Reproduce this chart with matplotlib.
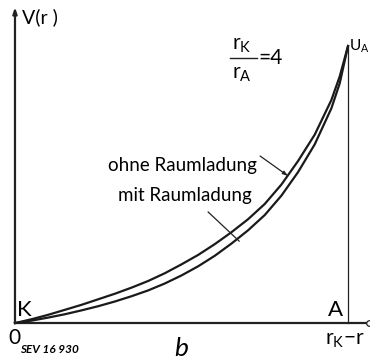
import matplotlib
matplotlib.use("Agg")
import matplotlib.pyplot as plt

plt.rcParams['font.family'] = ['Lato', 'DejaVu Sans']
plt.rcParams['mathtext.fontset'] = 'custom'
plt.rcParams['mathtext.rm'] = 'Lato'
plt.rcParams['mathtext.it'] = 'Lato:italic'

# normierter Abstand (rK - r)/(rK - rA)
x = [0.0, 0.05, 0.1, 0.15, 0.2, 0.25, 0.3, 0.35, 0.4, 0.45, 0.5, 0.55, 0.6, 0.65,
     0.7, 0.75, 0.8, 0.85, 0.9, 0.95, 0.975, 1.0]
# normiertes Potential V/UA
v_ohne = [0.0, 0.014, 0.030, 0.048, 0.066, 0.086, 0.106, 0.128, 0.152, 0.180, 0.212,
          0.246, 0.285, 0.328, 0.375, 0.430, 0.500, 0.585, 0.680, 0.805, 0.890, 1.0]
v_mit = [0.0, 0.009, 0.020, 0.032, 0.046, 0.061, 0.078, 0.097, 0.118, 0.143, 0.172,
         0.205, 0.243, 0.287, 0.335, 0.390, 0.460, 0.545, 0.645, 0.775, 0.865, 1.0]

fig = plt.figure(figsize=(3.7, 3.63), dpi=100)
ax = fig.add_axes([0, 0, 1, 1])
ax.set_xlim(-0.045, 1.066)
ax.set_ylim(-0.144, 1.166)
ax.axis('off')

# Achsen
ax.annotate('', xy=(0, 1.14), xytext=(0, 0),
            arrowprops=dict(arrowstyle='-|>,head_width=0.12,head_length=0.35',
                            fc='white', ec='#222222', lw=1.6, shrinkA=0, shrinkB=0))
ax.plot([0, 1.054], [0, 0], color='#222222', lw=1.6)
ax.plot([1.062], [0], marker='o', ms=4, mfc='white', mec='#222222', mew=0.9)
ax.plot([1, 1], [0, 1], color='#222222', lw=0.9)

# Kurven
ax.plot(x, v_ohne, color='#1a1a1a', lw=1.6, solid_joinstyle='round')
ax.plot(x, v_mit, color='#1a1a1a', lw=1.6, solid_joinstyle='round')

# Beschriftungen
ax.text(0.021, 1.105, 'V(r )', fontsize=14, va='center', ha='left')
ax.text(0.652, 1.005, r'r$_{\rm K}$', fontsize=15, va='center', ha='left')
ax.plot([0.646, 0.728], [0.958, 0.958], color='#222222', lw=1.0)
ax.text(0.652, 0.900, r'r$_{\rm A}$', fontsize=15, va='center', ha='left')
ax.text(0.732, 0.958, '=4', fontsize=15, va='center', ha='left')
ax.text(1.004, 1.0, r'U$_{\rm A}$', fontsize=11, va='center', ha='left')

ax.text(0.502, 0.570, 'ohne Raumladung', fontsize=13.5, va='center', ha='center')
ax.annotate('', xy=(0.820, 0.531), xytext=(0.736, 0.603),
            arrowprops=dict(arrowstyle='-|>,head_width=0.1,head_length=0.3',
                            color='#222222', lw=0.9, shrinkA=0, shrinkB=0))
ax.text(0.511, 0.462, 'mit Raumladung', fontsize=13.5, va='center', ha='center')
ax.plot([0.580, 0.673], [0.401, 0.296], color='#222222', lw=0.9)

ax.text(0.006, 0.047, 'K', fontsize=16, va='center', ha='left')
ax.text(0.94, 0.047, 'A', fontsize=16, va='center', ha='left')
ax.text(-0.003, -0.054, '0', fontsize=15, va='center', ha='center')
ax.text(0.931, -0.061, r'r$_{\rm K}$−r', fontsize=15, va='center', ha='left')
ax.text(0.015, -0.097, 'SEV 16 930', fontsize=8.5, style='italic', fontweight='bold',
        va='center', ha='left')
ax.text(0.498, -0.093, 'b', fontsize=19, style='italic', va='center', ha='center')

fig.savefig('out.png', dpi=100)
